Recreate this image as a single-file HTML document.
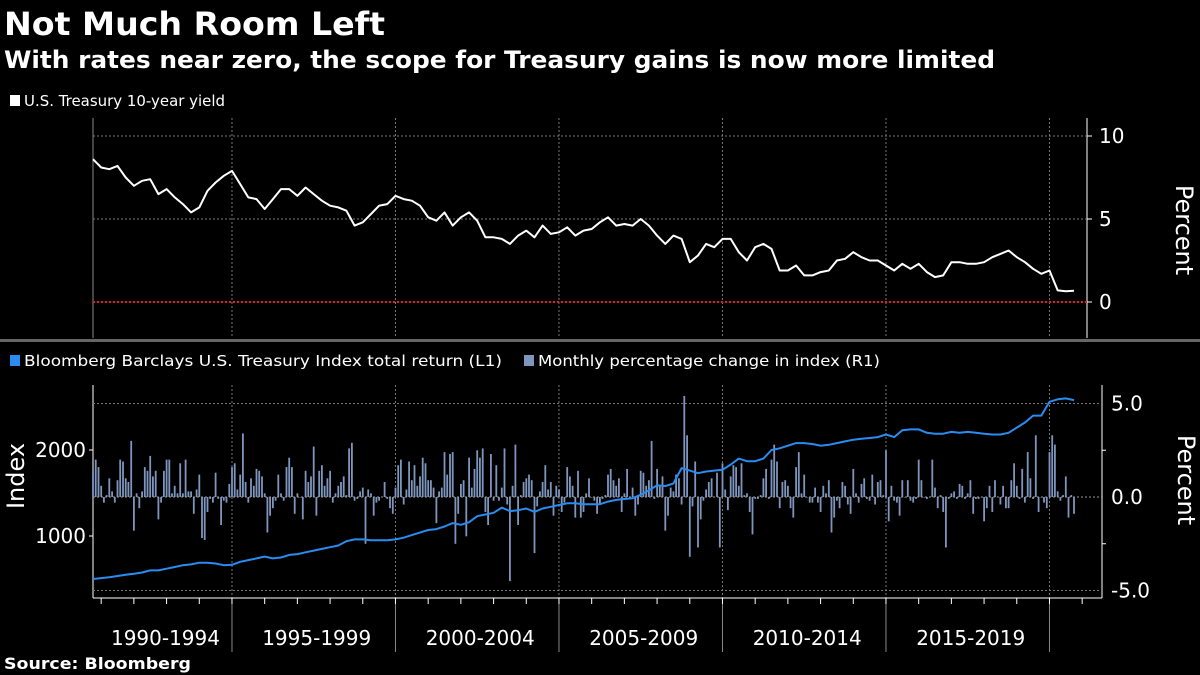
<!DOCTYPE html>
<html><head><meta charset="utf-8">
<style>
html,body{margin:0;padding:0;background:#000;width:1200px;height:675px;overflow:hidden}
svg text{font-family:"DejaVu Sans","Liberation Sans",sans-serif}
</style></head>
<body>
<svg id="chart" width="1200" height="675" viewBox="0 0 1200 675" xmlns="http://www.w3.org/2000/svg">
<rect width="1200" height="675" fill="#000"/>
<text x="4" y="35" fill="#fff" font-size="32" font-weight="bold" textLength="381" lengthAdjust="spacingAndGlyphs">Not Much Room Left</text>
<text x="4" y="68" fill="#fff" font-size="24" font-weight="bold" textLength="991" lengthAdjust="spacingAndGlyphs">With rates near zero, the scope for Treasury gains is now more limited</text>
<rect x="10" y="95" width="10" height="11" fill="#fff"/>
<text x="24" y="106" fill="#fff" font-size="15" textLength="201" lengthAdjust="spacingAndGlyphs">U.S. Treasury 10-year yield</text>
<rect x="0" y="339" width="1200" height="3" fill="#666"/>
<rect x="10" y="355" width="10" height="11" fill="#2a8cf0"/>
<text x="24" y="366" fill="#fff" font-size="15.5" textLength="478" lengthAdjust="spacingAndGlyphs">Bloomberg Barclays U.S. Treasury Index total return (L1)</text>
<rect x="524" y="355" width="10" height="11" fill="#7e95bd"/>
<text x="538" y="366" fill="#fff" font-size="15.5" textLength="342" lengthAdjust="spacingAndGlyphs">Monthly percentage change in index (R1)</text>
<text transform="translate(1176,230) rotate(90)" text-anchor="middle" fill="#fff" font-size="24">Percent</text>
<text transform="translate(1178,480) rotate(90)" text-anchor="middle" fill="#fff" font-size="24">Percent</text>
<text transform="translate(24,476) rotate(-90)" text-anchor="middle" fill="#fff" font-size="24">Index</text>
<text x="4" y="669" fill="#fff" font-size="16" font-weight="bold" textLength="187" lengthAdjust="spacingAndGlyphs">Source: Bloomberg</text>
<g id="g"></g>
</svg>
<script>
const yieldVals=[8.6,8.1,8.0,8.2,7.5,7.0,7.3,7.4,6.5,6.8,6.3,5.9,5.4,5.7,6.7,7.2,7.6,7.9,7.1,6.3,6.2,5.6,6.2,6.8,6.8,6.4,6.9,6.5,6.1,5.8,5.7,5.5,4.6,4.8,5.3,5.8,5.9,6.4,6.2,6.1,5.8,5.1,4.9,5.4,4.6,5.1,5.4,4.9,3.9,3.9,3.8,3.5,4.0,4.3,3.9,4.6,4.1,4.2,4.5,4.0,4.3,4.4,4.8,5.1,4.6,4.7,4.6,5.0,4.6,4.0,3.5,4.0,3.8,2.4,2.8,3.5,3.3,3.8,3.8,3.0,2.5,3.3,3.5,3.2,1.9,1.9,2.2,1.6,1.6,1.8,1.9,2.5,2.6,3.0,2.7,2.5,2.5,2.2,1.9,2.3,2.0,2.3,1.8,1.5,1.6,2.4,2.4,2.3,2.3,2.4,2.7,2.9,3.1,2.7,2.4,2.0,1.7,1.9,0.7,0.65,0.68];
const indexVals=[500,510,520,535,550,560,575,600,600,620,640,660,670,690,690,680,660,665,700,720,740,760,740,750,780,790,810,830,850,870,890,940,960,960,950,950,950,960,980,1010,1040,1070,1080,1110,1150,1130,1160,1230,1250,1270,1330,1290,1300,1320,1280,1320,1340,1360,1380,1380,1370,1370,1370,1400,1420,1430,1440,1480,1530,1590,1580,1610,1790,1760,1730,1750,1760,1770,1830,1900,1870,1870,1900,2000,2020,2050,2080,2080,2070,2050,2060,2080,2100,2120,2130,2140,2150,2180,2150,2230,2240,2240,2200,2190,2190,2210,2200,2210,2200,2190,2180,2180,2200,2260,2320,2400,2400,2560,2590,2600,2580];
const changeVals=[1.4,2.0,1.6,
0.6,-0.3,0.1,1.0,0.3,-0.3,0.9,2.0,1.9,1.0,0.8,3.0,
-1.8,0.2,-0.6,0.3,1.6,1.4,2.2,1.1,1.4,-1.2,-0.3,1.4,
2.0,2.0,0.2,0.6,0.2,1.8,0.2,2.0,0.3,0.3,-0.9,0.4,
1.2,-2.2,-2.3,-0.8,-0.1,-0.3,1.3,-0.1,-1.5,-0.2,-0.3,0.7,
1.6,1.8,0.4,1.2,3.4,0.8,-0.3,1.0,0.6,1.5,1.4,1.1,
0.2,-1.9,-1.0,-0.6,-0.2,1.2,0.2,-0.2,1.6,2.1,1.6,-0.9,
0.2,0.0,-1.2,1.4,0.8,1.1,2.7,-1.0,1.4,1.7,0.6,1.0,
1.4,-0.3,0.2,0.6,0.8,1.1,0.1,2.6,2.9,-0.2,-0.1,0.3,
0.5,-2.5,0.4,0.2,-1.0,-0.3,-0.2,0.0,0.8,-0.1,-0.6,-0.9,
0.5,1.7,2.0,-0.4,0.4,1.9,0.9,1.7,0.6,1.1,2.1,1.8,
0.9,0.9,0.5,-1.4,0.3,0.5,2.4,1.2,2.3,2.4,-2.5,-0.9,
0.7,0.9,-2.1,2.1,0.5,1.5,2.5,2.1,2.6,-0.8,-1.5,2.3,
-0.2,1.7,-0.2,0.5,2.6,-0.4,-4.5,0.6,2.8,-1.5,0.1,0.8,
1.0,1.2,0.9,-3.0,-0.5,0.3,0.8,1.7,0.4,0.8,-1.0,0.6,
0.4,-0.8,-0.3,1.6,1.1,0.6,-1.1,1.4,-1.1,-0.8,0.2,1.0,
0.0,-0.2,-0.9,-0.4,-0.1,0.1,1.2,1.5,0.9,0.6,1.0,-0.8,
0.2,1.5,0.0,0.5,-1.0,-0.4,1.4,1.3,0.6,0.9,3.0,-0.1,
1.5,0.6,1.1,-1.8,-1.0,0.5,0.3,1.2,1.0,-0.4,5.4,3.3,
-3.2,-0.5,1.9,-2.7,-1.2,-0.2,0.4,0.8,1.0,0.0,1.3,-2.7,
1.8,0.4,-0.7,1.1,1.7,1.6,0.6,1.8,0.1,0.2,-0.8,-2.0,
-0.1,-0.1,0.1,1.0,1.5,-0.1,2.0,2.8,1.9,-0.6,0.8,0.9,
0.6,-0.6,-1.1,1.6,2.4,0.2,1.2,0.0,-0.3,-0.3,0.5,-0.3,
-0.8,0.6,0.2,0.9,-1.9,-1.1,-0.2,-0.6,0.8,0.6,-0.4,-0.9,
1.5,0.2,-0.3,0.7,1.0,-0.1,-0.2,1.2,-0.4,0.8,0.9,0.1,
2.5,-1.3,0.6,-0.2,-0.3,-1.0,0.9,0.0,0.9,-0.2,-0.3,-0.1,
2.0,0.9,0.0,-0.1,0.0,2.0,0.5,-0.6,0.1,-0.8,-2.7,-0.1,
0.2,0.3,-0.1,0.7,0.6,-0.1,0.2,0.9,-0.9,-0.1,-0.1,0.0,
-1.3,-0.6,0.6,-0.8,0.9,0.0,-0.4,0.6,-0.6,-0.6,0.9,1.8,
0.6,-0.1,1.5,-0.3,2.4,1.0,-0.1,3.3,-0.8,0.0,-0.3,-0.6,
2.4,3.3,2.8,0.3,-0.2,0.1,1.1,-1.1,0.1,-0.9];
const periodLabels=["1990-1994","1995-1999","2000-2004","2005-2009","2010-2014","2015-2019"];
const yieldTicks=[0,5,10];
const indexTicks=[1000,2000];
const changeTicks=[-5.0,0.0,5.0];
const startYear=1990.75;

const X=t=>93+(t-startYear)*32.7;
const Yt=v=>302-v*16.6;
const Yi=v=>536-(v-1000)*0.086;
const Yc=v=>497-v*18.7;
const NS="http://www.w3.org/2000/svg";
const g=document.getElementById('g');
function mk(tag,at,txt){const e=document.createElementNS(NS,tag);for(const k in at)e.setAttribute(k,at[k]);if(txt!==undefined)e.textContent=txt;g.appendChild(e);return e;}

for(let y=1995;y<=2020;y+=5){
  const x=X(y);
  let e=mk('line',{x1:x,y1:118,x2:x,y2:338,stroke:'#777','stroke-dasharray':'2,2','stroke-width':1});
  
  
  e=mk('line',{x1:x,y1:385,x2:x,y2:598,stroke:'#777','stroke-dasharray':'2,2','stroke-width':1});
  
  
  e=mk('line',{x1:x,y1:598,x2:x,y2:652,stroke:'#888','stroke-width':1});
  
  
}
let a=mk('line',{x1:93,y1:118,x2:93,y2:338,stroke:'#888','stroke-width':1});


a=mk('line',{x1:1087,y1:118,x2:1087,y2:338,stroke:'#fff','stroke-width':1});


yieldTicks.forEach(v=>{
  const y=Yt(v);
  let e=mk('line',{x1:93,y1:y,x2:1087,y2:y,stroke:v===0?'#e8192c':'#777','stroke-dasharray':'2,2','stroke-width':v===0?2:1});
  
  
  e=mk('line',{x1:1087,y1:y,x2:1092,y2:y,stroke:'#fff'});
  
  
  e=mk('text',{x:1099,y:y+7,fill:'#fff','font-size':20},String(v));
  
  
});
let pts=yieldVals.map((v,i)=>X(startYear+i*0.25).toFixed(1)+','+Yt(v).toFixed(1)).join(' ');
let yl=mk('polyline',{points:pts,fill:'none',stroke:'#fff','stroke-width':2,'stroke-linejoin':'round'});



a=mk('line',{x1:93,y1:385,x2:93,y2:598,stroke:'#fff','stroke-width':1});


a=mk('line',{x1:1102,y1:385,x2:1102,y2:598,stroke:'#fff','stroke-width':1});


a=mk('line',{x1:93,y1:598,x2:1102,y2:598,stroke:'#fff','stroke-width':1});


for(let y=1991;y<=2021;y++){
  const x=X(y);
  const e=mk('line',{x1:x,y1:598,x2:x,y2:604,stroke:'#fff'});
  
  
}
changeTicks.forEach(v=>{
  const y=Yc(v);
  let e=mk('line',{x1:93,y1:y,x2:1102,y2:y,stroke:'#777','stroke-dasharray':'2,2'});
  
  
  e=mk('text',{x:1111,y:y+7,fill:'#fff','font-size':20},v.toFixed(1));
  
  
});
[-2.5,2.5].forEach(v=>{const e=mk('line',{x1:1102,y1:Yc(v),x2:1106,y2:Yc(v),stroke:'#fff'});
  
  });
indexTicks.forEach(v=>{
  const y=Yi(v);
  let e=mk('text',{x:86,y:y+7,fill:'#fff','font-size':20,'text-anchor':'end'},String(v));
  
  
  e=mk('line',{x1:89,y1:y,x2:93,y2:y,stroke:'#fff'});
  
  
});
changeVals.forEach((v,i)=>{
  const x=X(startYear+i/12);
  const y0=Yc(0),y1=Yc(v);
  const b=mk('rect',{x:(x-0.9).toFixed(1),y:Math.min(y0,y1).toFixed(1),width:1.8,height:Math.max(0.5,Math.abs(y1-y0)).toFixed(1),fill:'#7e95bd'});
  
  
});
let zl=mk('line',{x1:93,y1:Yc(0),x2:1102,y2:Yc(0),stroke:'#999','stroke-dasharray':'2,2'});


pts=indexVals.map((v,i)=>X(startYear+i*0.25).toFixed(1)+','+Yi(v).toFixed(1)).join(' ');
let il=mk('polyline',{points:pts,fill:'none',stroke:'#2a8cf0','stroke-width':2,'stroke-linejoin':'round'});


periodLabels.forEach((t,i)=>{
  const x0=i===0?93:X(1990+i*5),x1=X(1995+i*5);
  const e=mk('text',{x:(x0+x1)/2+3,y:645,fill:'#fff','font-size':20,'text-anchor':'middle'},t);
  
  
});
</script>
</body></html>
